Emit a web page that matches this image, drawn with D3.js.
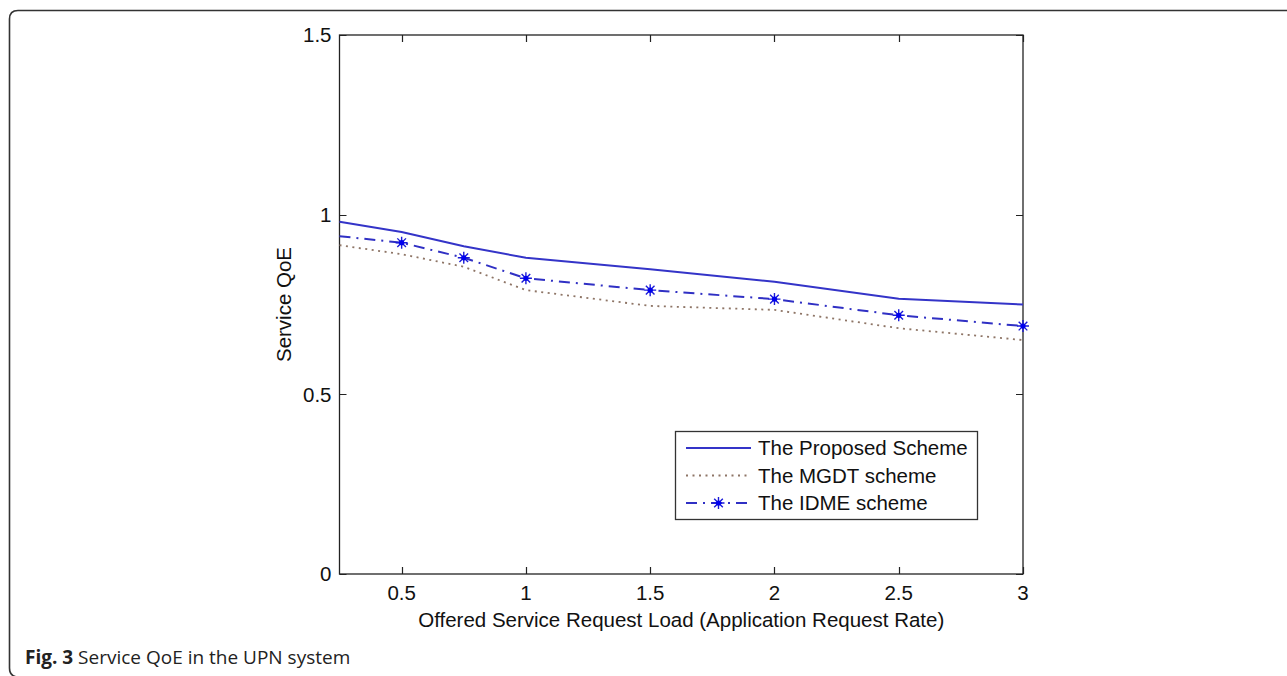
<!DOCTYPE html>
<html>
<head>
<meta charset="utf-8">
<script src="https://cdn.jsdelivr.net/npm/d3@7"></script>
<style>
	body{ margin:0; background:#fff; }
	.tick-label{ font-family:"Liberation Sans", Arial, sans-serif; font-size:20.5px; fill:#111; }
	.axis-title{ font-family:"Liberation Sans", Arial, sans-serif; font-size:20.5px; fill:#111; }
	.legend-label{ font-family:"Liberation Sans", Arial, sans-serif; font-size:20.5px; fill:#111; }
	.caption{ font-family:"Open Sans", "Noto Sans", sans-serif; font-size:19px; fill:#222; }
</style>
</head>
<body>
<svg id="chart" width="1287" height="676"></svg>
<script>
var loads = [0.25, 0.5, 0.75, 1, 1.5, 2, 2.5, 3];
var proposed = [0.98, 0.952, 0.912, 0.88, 0.848, 0.813, 0.766, 0.75];
var mgdt = [0.915, 0.89, 0.855, 0.79, 0.746, 0.735, 0.684, 0.651];
var idme = [0.94, 0.922, 0.88, 0.823, 0.79, 0.765, 0.72, 0.69];

var xTicks = [0.5, 1, 1.5, 2, 2.5, 3];
var yTicks = [0, 0.5, 1, 1.5];
var xTitle = 'Offered Service Request Load (Application Request Rate)';
var yTitle = 'Service QoE';
var seriesNames = ['The Proposed Scheme', 'The MGDT scheme', 'The IDME scheme'];

var svg = d3.select('#chart');

//Outer frame of the figure (open on the right)
svg.append('path')
	.attr('d', 'M1287,10.5 H18 Q9.5,10.5 9.5,19 V668 Q9.5,676 17,677')
	.attr('fill', 'none')
	.attr('stroke', '#333')
	.attr('stroke-width', 1.6);

var caption = svg.append('text').attr('class', 'caption').attr('x', 25).attr('y', 664);
caption.append('tspan').attr('font-weight', 'bold').text('Fig. 3');
caption.append('tspan').text(' Service QoE in the UPN system');

//Plot area
var pLeft = 339.5, pRight = 1023, pTop = 35, pBottom = 574;
var xScale = d3.scaleLinear().domain([0.25, 3]).range([pLeft, pRight]);
var yScale = d3.scaleLinear().domain([0, 1.5]).range([pBottom, pTop]);
var tickLen = 7;

var g = svg.append('g');

g.append('rect')
	.attr('x', pLeft).attr('y', pTop)
	.attr('width', pRight-pLeft).attr('height', pBottom-pTop)
	.attr('fill', 'none').attr('stroke', '#222').attr('stroke-width', 1.3);

//x ticks (bottom and top, pointing inward)
g.selectAll('.xtick').data(xTicks).enter().append('path')
	.attr('class', 'xtick')
	.attr('d', function(d){
		var x = Math.round(xScale(d))+0.5;
		return 'M'+x+','+pBottom+'V'+(pBottom-tickLen)+'M'+x+','+pTop+'V'+(pTop+tickLen);
	})
	.attr('stroke', '#222').attr('stroke-width', 1.2);

g.selectAll('.xlab').data(xTicks).enter().append('text')
	.attr('class', 'tick-label')
	.attr('x', function(d){ return xScale(d); })
	.attr('y', pBottom+26)
	.attr('text-anchor', 'middle')
	.text(function(d){ return d; });

//y ticks (left and right)
g.selectAll('.ytick').data(yTicks).enter().append('path')
	.attr('class', 'ytick')
	.attr('d', function(d){
		var y = Math.round(yScale(d))+0.5;
		return 'M'+pLeft+','+y+'H'+(pLeft+tickLen)+'M'+pRight+','+y+'H'+(pRight-tickLen);
	})
	.attr('stroke', '#222').attr('stroke-width', 1.2);

g.selectAll('.ylab').data(yTicks).enter().append('text')
	.attr('class', 'tick-label')
	.attr('x', pLeft-8)
	.attr('y', function(d){ return yScale(d); })
	.attr('dy', '0.36em')
	.attr('text-anchor', 'end')
	.text(function(d){ return d; });

g.append('text').attr('class', 'axis-title')
	.attr('x', (pLeft+pRight)/2).attr('y', 627)
	.attr('text-anchor', 'middle')
	.text(xTitle);

g.append('text').attr('class', 'axis-title')
	.attr('transform', 'translate(291,' + ((pTop+pBottom)/2) + ') rotate(-90)')
	.attr('text-anchor', 'middle')
	.text(yTitle);

//Series
var series = [
	{'name': seriesNames[0], 'vals': proposed, 'color': '#3434c8', 'dash': null, 'width': 2},
	{'name': seriesNames[1], 'vals': mgdt, 'color': '#8e7566', 'dash': '2,4.5', 'width': 1.8},
	{'name': seriesNames[2], 'vals': idme, 'color': '#3030c4', 'dash': '11,6,2,6', 'width': 2}
];

var line = d3.line()
	.x(function(d){ return xScale(d.x); })
	.y(function(d){ return yScale(d.y); });

series.forEach(function(s){
	var pts = loads.map(function(x, i){ return {'x': x, 'y': s.vals[i]}; });
	s.pts = pts;
	g.append('path')
		.datum(pts)
		.attr('d', line)
		.attr('fill', 'none')
		.attr('stroke', s.color)
		.attr('stroke-width', s.width)
		.attr('stroke-dasharray', s.dash);
});

function asterisk(sel, cx, cy){
	var r = 6, k = r*0.72;
	sel.append('path')
		.attr('d', 'M'+(cx-r)+','+cy+'H'+(cx+r)+'M'+cx+','+(cy-r)+'V'+(cy+r)
			+'M'+(cx-k)+','+(cy-k)+'L'+(cx+k)+','+(cy+k)+'M'+(cx-k)+','+(cy+k)+'L'+(cx+k)+','+(cy-k))
		.attr('stroke', '#1a1ad8').attr('stroke-width', 1.4);
	sel.append('circle').attr('cx', cx).attr('cy', cy).attr('r', 2.6).attr('fill', '#0000ee');
}

//markers on the IDME curve (first point sits on the axis, no marker there)
series[2].pts.filter(function(d){ return d.x >= 0.5; }).forEach(function(d){
	asterisk(g, xScale(d.x), yScale(d.y));
});

//Legend
var lg = svg.append('g');
lg.append('rect')
	.attr('x', 675.5).attr('y', 431.5).attr('width', 302).attr('height', 88)
	.attr('fill', '#fff').attr('stroke', '#333').attr('stroke-width', 1.3);

series.forEach(function(s, i){
	var y = 448 + i*27.5;
	lg.append('path')
		.attr('d', 'M686,' + y + 'H751')
		.attr('stroke', s.color)
		.attr('stroke-width', s.width)
		.attr('stroke-dasharray', s.dash);
	if(i==2) asterisk(lg, 718.5, y);
	lg.append('text').attr('class', 'legend-label')
		.attr('x', 758).attr('y', y).attr('dy', '0.36em')
		.text(s.name);
});
</script>
</body>
</html>
